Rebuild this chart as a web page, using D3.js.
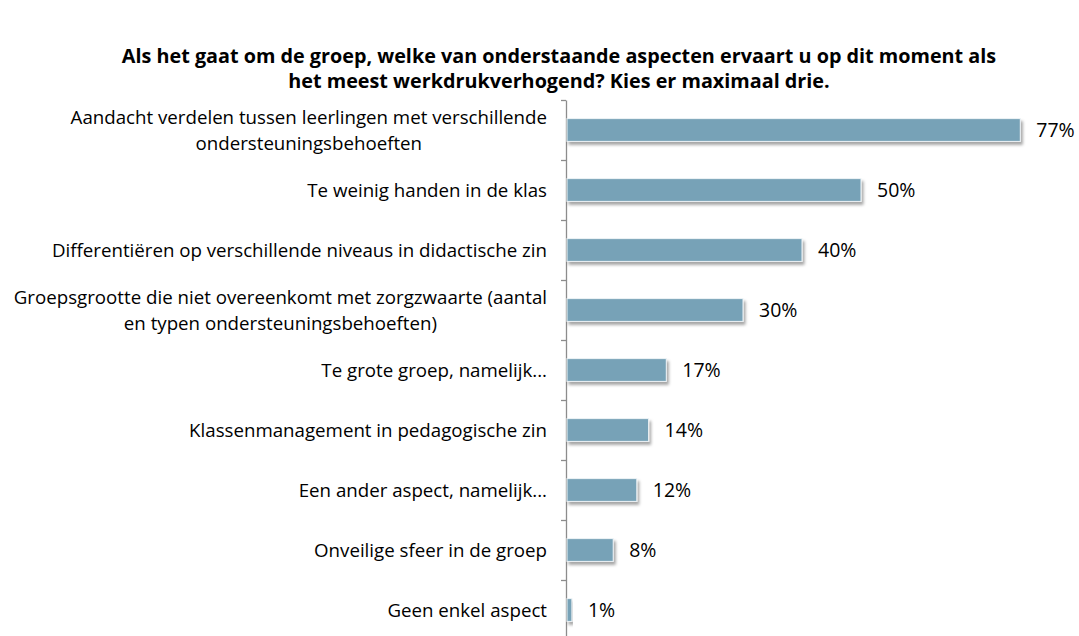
<!DOCTYPE html>
<html>
<head>
<meta charset="utf-8">
<script src="https://cdn.jsdelivr.net/npm/d3@7"></script>
<style>
  body { margin: 0; background: #fff; }
  svg text { font-family: "Open Sans", sans-serif; fill: #000; }
</style>
</head>
<body>
<svg id="chart" width="1079" height="636"></svg>
<script>
// chart data
const titleLines = [
    "Als het gaat om de groep, welke van onderstaande aspecten ervaart u op dit moment als",
    "het meest werkdrukverhogend? Kies er maximaal drie."
];
const categories = [
    ["Aandacht verdelen tussen leerlingen met verschillende", "ondersteuningsbehoeften"],
    ["Te weinig handen in de klas"],
    ["Differentiëren op verschillende niveaus in didactische zin"],
    ["Groepsgrootte die niet overeenkomt met zorgzwaarte (aantal", "en typen ondersteuningsbehoeften)"],
    ["Te grote groep, namelijk..."],
    ["Klassenmanagement in pedagogische zin"],
    ["Een ander aspect, namelijk..."],
    ["Onveilige sfeer in de groep"],
    ["Geen enkel aspect"]
];
const values = [77, 50, 40, 30, 17, 14, 12, 8, 1];

const BAR_COLOR = "#77a2b7";
const svg = d3.select("#chart");

//Drop shadow for the bars
const defs = svg.append("defs");
const shadow = defs.append("filter").attr("id", "shadow")
    .attr("x", "-10%").attr("y", "-30%").attr("width", "130%").attr("height", "190%");
shadow.append("feDropShadow")
    .attr("dx", 2).attr("dy", 3).attr("stdDeviation", 1.6)
    .attr("flood-color", "#000").attr("flood-opacity", 0.35);

// title
svg.append("g").selectAll("text")
    .data(titleLines)
    .enter().append("text")
        .attr("x", 559)
        .attr("y", (d, i) => 63 + i * 25)
        .attr("text-anchor", "middle")
        .style("font-size", "19.8px")
        .style("font-weight", "bold")
        .text(d => d);

let idx = d3.range(categories.length);
let x = d3.scaleLinear().domain([0, 100]).range([566, 1156]);
let y = d3.scaleBand().domain(idx).range([100, 640]).paddingInner(0.62).paddingOuter(0.31);
let yTick = d3.scaleLinear().domain([0, categories.length]).range([100, 640]);

// axis with ticks between categories
let axis = svg.append("g")
    .attr("transform", `translate(${x(0)},0)`)
    .call(d3.axisLeft(yTick).tickValues(d3.range(categories.length + 1)).tickSize(5).tickSizeOuter(0).tickFormat(""));
axis.select(".domain").attr("stroke", "#8c8c8c").attr("stroke-width", 1.3);
axis.selectAll(".tick line").attr("stroke", "#8c8c8c").attr("stroke-width", 1.3);

// bars
svg.append("g").selectAll("rect")
    .data(idx)
    .enter().append("rect")
        .attr("x", x(0) + 1)
        .attr("y", i => y(i))
        .attr("width", i => x(values[i]) - x(0) - 1)
        .attr("height", y.bandwidth())
        .attr("fill", BAR_COLOR)
        .attr("stroke", "#eef3f6")
        .attr("stroke-width", 1)
        .attr("filter", "url(#shadow)");

// value labels
svg.append("g").selectAll("text")
    .data(idx)
    .enter().append("text")
        .attr("x", i => x(values[i]) + 16)
        .attr("y", i => y(i) + y.bandwidth() / 2)
        .attr("dy", "0.36em")
        .style("font-size", "19.5px")
        .text(i => values[i] + "%");

// category labels, multi-line ones centred in a right aligned block
const LABEL_RIGHT = 547;
const LINE_H = 26;
let labels = svg.append("g");
idx.forEach(i => {
    let lines = categories[i];
    let g = labels.append("g");
    let texts = g.selectAll("text")
        .data(lines)
        .enter().append("text")
            .attr("y", (d, j) => y(i) + y.bandwidth() / 2 + (j - (lines.length - 1) / 2) * LINE_H)
            .attr("dy", "0.36em")
            .style("font-size", "18.7px")
            .text(d => d);
    let maxW = d3.max(texts.nodes(), n => n.getComputedTextLength());
    texts.attr("x", LABEL_RIGHT - maxW / 2).attr("text-anchor", "middle");
});
</script>
</body>
</html>
